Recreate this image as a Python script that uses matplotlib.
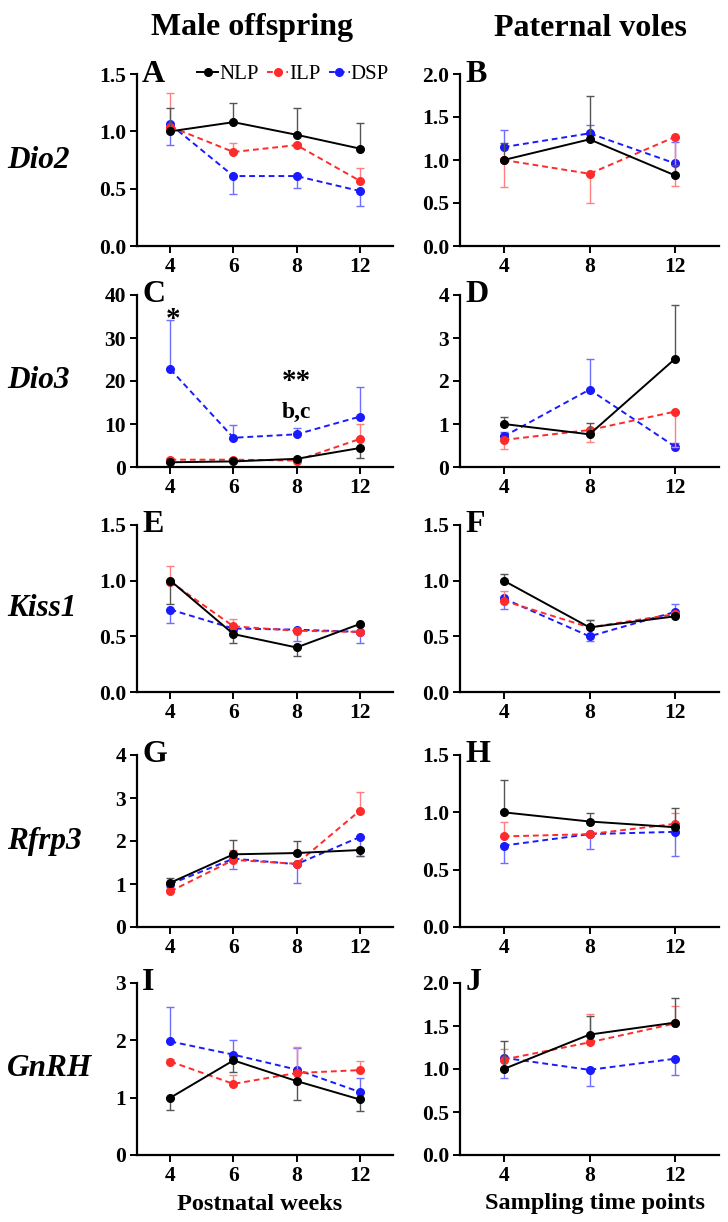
import matplotlib
matplotlib.use("Agg")
import matplotlib.pyplot as plt
import numpy as np

plt.rcParams['font.family'] = ['Liberation Serif', 'DejaVu Serif']

weeks_off = ['4', '6', '8', '12']
weeks_pat = ['4', '8', '12']
groups = ['NLP', 'ILP', 'DSP']

# signed errors: + drawn above the mean, - drawn below
A_NLP = [1.00, 1.08, 0.97, 0.85]; A_NLP_err = [0.20, 0.17, 0.23, 0.22]
A_ILP = [1.04, 0.82, 0.88, 0.57]; A_ILP_err = [0.29, 0.08, 0.02, 0.11]
A_DSP = [1.06, 0.61, 0.61, 0.48]; A_DSP_err = [-0.18, -0.16, -0.10, -0.13]

B_NLP = [1.00, 1.24, 0.82]; B_NLP_err = [0.20, 0.50, 0.12]
B_ILP = [1.00, 0.84, 1.27]; B_ILP_err = [-0.31, -0.34, -0.57]
B_DSP = [1.15, 1.31, 0.96]; B_DSP_err = [0.20, 0.10, 0.25]

C_NLP = [1.1, 1.3, 1.9, 4.4]; C_NLP_err = [-0.2, -0.2, -0.2, -2.3]
C_ILP = [1.7, 1.7, 1.5, 6.5]; C_ILP_err = [0.3, 0.3, 0.3, 3.4]
C_DSP = [22.7, 6.8, 7.6, 11.7]; C_DSP_err = [11.5, 3.0, 1.4, 7.0]

D_NLP = [1.00, 0.76, 2.52]; D_NLP_err = [0.17, 0.27, 1.25]
D_ILP = [0.63, 0.86, 1.29]; D_ILP_err = [-0.20, -0.28, -0.83]
D_DSP = [0.71, 1.80, 0.47]; D_DSP_err = [0.10, 0.72, 0.08]

E_NLP = [1.00, 0.52, 0.40, 0.61]; E_NLP_err = [-0.21, -0.08, -0.08, -0.02]
E_ILP = [0.99, 0.59, 0.55, 0.54]; E_ILP_err = [0.14, 0.07, 0.02, 0.02]
E_DSP = [0.74, 0.57, 0.56, 0.54]; E_DSP_err = [-0.12, -0.02, -0.10, -0.10]

F_NLP = [1.00, 0.58, 0.68]; F_NLP_err = [0.06, 0.07, 0.02]
F_ILP = [0.82, 0.58, 0.70]; F_ILP_err = [0.09, 0.07, 0.02]
F_DSP = [0.84, 0.50, 0.72]; F_DSP_err = [-0.09, -0.04, 0.07]

G_NLP = [1.03, 1.69, 1.72, 1.79]; G_NLP_err = [0.10, 0.34, 0.27, -0.15]
G_ILP = [0.83, 1.56, 1.47, 2.70]; G_ILP_err = [0.05, 0.24, 0.05, 0.44]
G_DSP = [1.00, 1.59, 1.46, 2.09]; G_DSP_err = [-0.08, -0.23, -0.44, -0.45]

H_NLP = [1.00, 0.92, 0.87]; H_NLP_err = [0.28, 0.07, 0.17]
H_ILP = [0.79, 0.81, 0.90]; H_ILP_err = [0.13, 0.02, 0.09]
H_DSP = [0.71, 0.81, 0.83]; H_DSP_err = [-0.15, -0.13, -0.21]

I_NLP = [1.00, 1.65, 1.29, 0.97]; I_NLP_err = [-0.21, -0.20, -0.33, -0.21]
I_ILP = [1.63, 1.24, 1.43, 1.48]; I_ILP_err = [0.05, 0.15, 0.45, 0.16]
I_DSP = [1.98, 1.75, 1.49, 1.10]; I_DSP_err = [0.60, 0.26, 0.38, 0.25]

J_NLP = [1.00, 1.40, 1.54]; J_NLP_err = [0.32, 0.22, 0.28]
J_ILP = [1.11, 1.31, 1.53]; J_ILP_err = [0.12, 0.33, 0.20]
J_DSP = [1.13, 0.99, 1.12]; J_DSP_err = [-0.23, -0.19, -0.19]

genes = ['Dio2', 'Dio3', 'Kiss1', 'Rfrp3', 'GnRH']

panels = {
    'A': (A_NLP, A_NLP_err, A_ILP, A_ILP_err, A_DSP, A_DSP_err),
    'B': (B_NLP, B_NLP_err, B_ILP, B_ILP_err, B_DSP, B_DSP_err),
    'C': (C_NLP, C_NLP_err, C_ILP, C_ILP_err, C_DSP, C_DSP_err),
    'D': (D_NLP, D_NLP_err, D_ILP, D_ILP_err, D_DSP, D_DSP_err),
    'E': (E_NLP, E_NLP_err, E_ILP, E_ILP_err, E_DSP, E_DSP_err),
    'F': (F_NLP, F_NLP_err, F_ILP, F_ILP_err, F_DSP, F_DSP_err),
    'G': (G_NLP, G_NLP_err, G_ILP, G_ILP_err, G_DSP, G_DSP_err),
    'H': (H_NLP, H_NLP_err, H_ILP, H_ILP_err, H_DSP, H_DSP_err),
    'I': (I_NLP, I_NLP_err, I_ILP, I_ILP_err, I_DSP, I_DSP_err),
    'J': (J_NLP, J_NLP_err, J_ILP, J_ILP_err, J_DSP, J_DSP_err),
}
ylims = {'A': (1.5, 0.5, '%.1f'), 'B': (2.0, 0.5, '%.1f'), 'C': (40, 10, '%d'),
         'D': (4, 1, '%d'), 'E': (1.5, 0.5, '%.1f'), 'F': (1.5, 0.5, '%.1f'),
         'G': (4, 1, '%d'), 'H': (1.5, 0.5, '%.1f'), 'I': (3, 1, '%d'),
         'J': (2.0, 0.5, '%.1f')}

styles = {
    'NLP': dict(color='black', ls='-', ecolor='#555555', z=4),
    'ILP': dict(color='#ff2a2a', ls=(0, (3, 2)), ecolor='#ff8080', z=3),
    'DSP': dict(color='#1a1aff', ls=(0, (3, 2)), ecolor='#6f6fff', z=2),
}

W, H = 728, 1222
fig = plt.figure(figsize=(W / 100, H / 100), dpi=100)

col_x = [(137, 256), (460, 259)]
row_y = [(74, 246), (295, 467), (525, 692), (755, 927), (983, 1155)]

letters = 'ABCDEFGHIJ'
axes = {}
for r in range(5):
    for c in range(2):
        L = letters[r * 2 + c]
        x0, w = col_x[c]
        top, bot = row_y[r]
        ax = fig.add_axes([x0 / W, 1 - bot / H, w / W, (bot - top) / H])
        axes[L] = ax
        cats = weeks_off if c == 0 else weeks_pat
        xs = np.arange(len(cats))
        vals = panels[L]
        handles = []
        for g_i in [2, 1, 0]:
            g = groups[g_i]
            st = styles[g]
            m = np.array(vals[g_i * 2])
            e = np.array(vals[g_i * 2 + 1])
            up = np.where(e > 0, e, 0)
            lo = np.where(e < 0, -e, 0)
            ax.errorbar(xs, m, yerr=[lo, up], fmt='none', ecolor=st['ecolor'],
                        elinewidth=1.0, capsize=3, capthick=1.0, zorder=st['z'])
            ln, = ax.plot(xs, m, color=st['color'], ls=st['ls'], lw=1.4,
                          marker='o', ms=5.5, zorder=st['z'] + 0.5, label=g)
            handles.append(ln)
        top_v, step, fmt = ylims[L]
        ax.set_ylim(0, top_v)
        ax.set_yticks(np.arange(0, top_v + step / 2, step))
        ax.yaxis.set_major_formatter(matplotlib.ticker.FormatStrFormatter(fmt))
        pad = 0.53 if c == 0 else 0.51
        ax.set_xlim(-pad, len(cats) - 1 + pad)
        ax.set_xticks(xs)
        ax.set_xticklabels(cats)
        for s in ['top', 'right']:
            ax.spines[s].set_visible(False)
        for s in ['left', 'bottom']:
            ax.spines[s].set_linewidth(1.6)
        ax.tick_params(direction='out', length=5, width=1.4, labelsize=15.5, pad=3)
        for t in ax.get_xticklabels() + ax.get_yticklabels():
            t.set_fontweight('bold')
        ax.text(0.02, 1.0, L, transform=ax.transAxes, fontsize=23,
                fontweight='bold', ha='left', va='center')
        if L == 'A':
            ax.legend(handles=handles[::-1], loc='center', bbox_to_anchor=(0.61, 1.0),
                      ncol=3, frameon=False, fontsize=15, handlelength=1.0,
                      handletextpad=0.05, columnspacing=0.4, borderpad=0)

# significance marks on Dio3 offspring panel
axC = axes['C']
axC.text(0.05, 34.3, '*', ha='center', va='center', fontsize=21, fontweight='bold')
axC.text(2, 19.8, '**', ha='center', va='center', fontsize=21, fontweight='bold')
axC.text(2, 12.8, 'b,c', ha='center', va='center', fontsize=17, fontweight='bold')

for r, gname in enumerate(genes):
    top, bot = row_y[r]
    fig.text(7 / W, 1 - (top + bot) / 2 / H, gname, ha='left', va='center',
             fontsize=22.5, fontweight='bold', style='italic')

fig.text(252 / W, 1 - 28 / H, 'Male offspring', ha='center', va='center',
         fontsize=23, fontweight='bold')
fig.text(590 / W, 1 - 28 / H, 'Paternal voles', ha='center', va='center',
         fontsize=23, fontweight='bold')
fig.text(260 / W, 1 - 1204 / H, 'Postnatal weeks', ha='center', va='center',
         fontsize=17.5, fontweight='bold')
fig.text(595 / W, 1 - 1204 / H, 'Sampling time points', ha='center', va='center',
         fontsize=17.5, fontweight='bold')

fig.savefig('out.png', dpi=100)
